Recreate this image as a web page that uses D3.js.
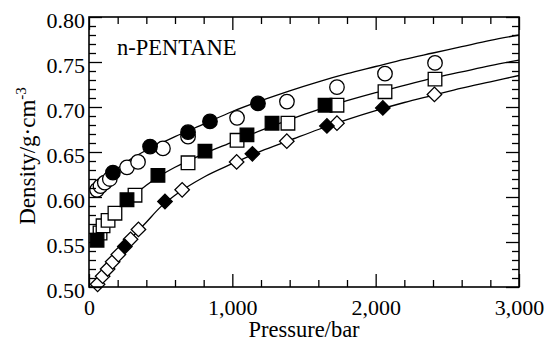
<!DOCTYPE html>
<html>
<head>
<meta charset="utf-8">
<script src="https://cdn.jsdelivr.net/npm/d3@7"></script>
<style>
  body { margin: 0; background: #fff; }
  svg { display: block; font-family: "Liberation Serif", "Times New Roman", serif; }
</style>
</head>
<body>
<script>
// n-pentane density vs pressure

var width = 548;
var height = 343;
var margin = {left: 89, right: 29, top: 17, bottom: 56};

// tick values
var xMajor = [0, 1000, 2000, 3000];
var xMinor = [200, 400, 600, 800, 1200, 1400, 1600, 1800, 2200, 2400, 2600, 2800];
var yMajor = [0.50, 0.55, 0.60, 0.65, 0.70, 0.75, 0.80];
var yMinor = [0.51, 0.52, 0.53, 0.54, 0.56, 0.57, 0.58, 0.59, 0.61, 0.62, 0.63, 0.64,
              0.66, 0.67, 0.68, 0.69, 0.71, 0.72, 0.73, 0.74, 0.76, 0.77, 0.78, 0.79];

// model curves [pressure, density]
var lineTop = [[100,0.619],[200,0.632],[300,0.643],[400,0.652],[600,0.667],[800,0.681],
  [1000,0.695],[1200,0.707],[1400,0.718],[1600,0.728],[1800,0.737],[2000,0.745],
  [2200,0.753],[2400,0.760],[2600,0.767],[2800,0.774],[3000,0.780]];
var lineMid = [[40,0.550],[100,0.566],[200,0.585],[300,0.600],[400,0.613],[500,0.624],
  [600,0.633],[800,0.648],[1000,0.661],[1200,0.674],[1400,0.686],[1600,0.697],
  [1800,0.707],[2000,0.716],[2200,0.724],[2400,0.732],[2600,0.739],[2800,0.746],[3000,0.752]];
var lineBot = [[50,0.500],[100,0.513],[150,0.524],[200,0.535],[300,0.555],[400,0.572],
  [500,0.589],[600,0.602],[800,0.622],[1000,0.637],[1200,0.651],[1400,0.663],[1600,0.675],
  [1800,0.686],[2000,0.696],[2200,0.705],[2400,0.713],[2600,0.721],[2800,0.728],[3000,0.735]];

// measured points [pressure, density]
var circlesOpen = [[56,0.608],[80,0.612],[110,0.616],[145,0.620],[265,0.633],[342,0.639],
  [516,0.654],[691,0.667],[1033,0.688],[1381,0.706],[1730,0.722],[2065,0.737],[2414,0.749]];
var circlesFilled = [[167,0.627],[426,0.656],[691,0.672],[844,0.684],[1179,0.704]];
var squaresOpen = [[77,0.560],[98,0.568],[133,0.574],[181,0.582],[321,0.602],[691,0.638],
  [1033,0.663],[1388,0.682],[1730,0.702],[2065,0.717],[2414,0.731]];
var squaresFilled = [[56,0.552],[265,0.597],[481,0.624],[809,0.651],[1102,0.669],[1277,0.682],[1647,0.702]];
var diamondsOpen = [[60,0.503],[95,0.512],[130,0.520],[165,0.528],[205,0.536],[290,0.553],
  [345,0.564],[650,0.608],[1030,0.639],[1380,0.662],[1730,0.682],[2410,0.714]];
var diamondsFilled = [[250,0.545],[530,0.595],[1140,0.648],[1660,0.679],[2050,0.699]];

var svg = d3.select('body').append('svg')
  .attr('width', width)
  .attr('height', height);

var x = d3.scaleLinear().domain([0, 3000]).range([margin.left, width - margin.right]);
var y = d3.scaleLinear().domain([0.50, 0.80]).range([height - margin.bottom, margin.top]);

var line = d3.line()
  .x(function(d){ return x(d[0]); })
  .y(function(d){ return y(d[1]); })
  .curve(d3.curveMonotoneX);

//curves
[lineTop, lineMid, lineBot].forEach(function(c){
  svg.append('path').datum(c)
    .attr('d', line)
    .attr('fill', 'none')
    .attr('stroke', '#000')
    .attr('stroke-width', 1.3);
});

//markers
var sizes = {circle: 165, square: 185, diamond: 105};
var drawPts = function(data, kind, filled){
  var type = kind === 'circle' ? d3.symbolCircle : d3.symbolSquare;
  svg.append('g').selectAll('path').data(data).enter().append('path')
    .attr('transform', function(d){ return 'translate(' + x(d[0]) + ',' + y(d[1]) + ')' +
      (kind === 'diamond' ? ' rotate(45)' : ''); })
    .attr('d', d3.symbol().type(type).size(sizes[kind]))
    .attr('fill', filled ? '#000' : '#fff')
    .attr('stroke', '#000')
    .attr('stroke-width', 1.3);
};
drawPts(circlesOpen, 'circle', false);
drawPts(circlesFilled, 'circle', true);
drawPts(squaresOpen, 'square', false);
drawPts(squaresFilled, 'square', true);
drawPts(diamondsOpen, 'diamond', false);
drawPts(diamondsFilled, 'diamond', true);

//axes
var bottom = height - margin.bottom;
var right = width - margin.right;
var styleAxis = function(g){
  g.select('.domain').remove();
  g.selectAll('line').attr('stroke', '#000').attr('stroke-width', 1.3);
  g.selectAll('text').attr('fill', '#000').style('font-size', '22px')
    .style('font-family', '"Liberation Serif", serif');
};

svg.append('g').attr('transform', 'translate(0,' + bottom + ')')
  .call(d3.axisBottom(x).tickValues(xMajor).tickSizeInner(-13).tickSizeOuter(0)
    .tickPadding(12).tickFormat(d3.format(',')))
  .call(styleAxis);
svg.append('g').attr('transform', 'translate(0,' + bottom + ')')
  .call(d3.axisBottom(x).tickValues(xMinor).tickSizeInner(-7).tickSizeOuter(0).tickFormat(''))
  .call(styleAxis);
svg.append('g').attr('transform', 'translate(0,' + margin.top + ')')
  .call(d3.axisTop(x).tickValues(xMajor).tickSizeInner(-13).tickSizeOuter(0).tickFormat(''))
  .call(styleAxis);
svg.append('g').attr('transform', 'translate(0,' + margin.top + ')')
  .call(d3.axisTop(x).tickValues(xMinor).tickSizeInner(-7).tickSizeOuter(0).tickFormat(''))
  .call(styleAxis);

var yl = svg.append('g').attr('transform', 'translate(' + margin.left + ',0)')
  .call(d3.axisLeft(y).tickValues(yMajor).tickSizeInner(-13).tickSizeOuter(0)
    .tickPadding(4).tickFormat(d3.format('.2f')))
  .call(styleAxis);
yl.selectAll('text').attr('dy', '0.47em');
svg.append('g').attr('transform', 'translate(' + margin.left + ',0)')
  .call(d3.axisLeft(y).tickValues(yMinor).tickSizeInner(-7).tickSizeOuter(0).tickFormat(''))
  .call(styleAxis);
svg.append('g').attr('transform', 'translate(' + right + ',0)')
  .call(d3.axisRight(y).tickValues(yMajor).tickSizeInner(-13).tickSizeOuter(0).tickFormat(''))
  .call(styleAxis);
svg.append('g').attr('transform', 'translate(' + right + ',0)')
  .call(d3.axisRight(y).tickValues(yMinor).tickSizeInner(-7).tickSizeOuter(0).tickFormat(''))
  .call(styleAxis);

//frame
svg.append('rect')
  .attr('x', margin.left).attr('y', margin.top)
  .attr('width', right - margin.left).attr('height', bottom - margin.top)
  .attr('fill', 'none').attr('stroke', '#000').attr('stroke-width', 1.6);

//labels
svg.append('text')
  .attr('x', 117).attr('y', 55)
  .style('font-size', '22.5px')
  .text('n-PENTANE');

svg.append('text')
  .attr('x', (margin.left + right) / 2).attr('y', 337)
  .attr('text-anchor', 'middle')
  .style('font-size', '22.5px')
  .text('Pressure/bar');

var yt = svg.append('text')
  .attr('transform', 'translate(35,156) rotate(-90)')
  .attr('text-anchor', 'middle')
  .style('font-size', '23px');
yt.append('tspan').text('Density/g\u00b7cm');
yt.append('tspan').attr('dy', -9).style('font-size', '15px').text('-3');
</script>
</body>
</html>
